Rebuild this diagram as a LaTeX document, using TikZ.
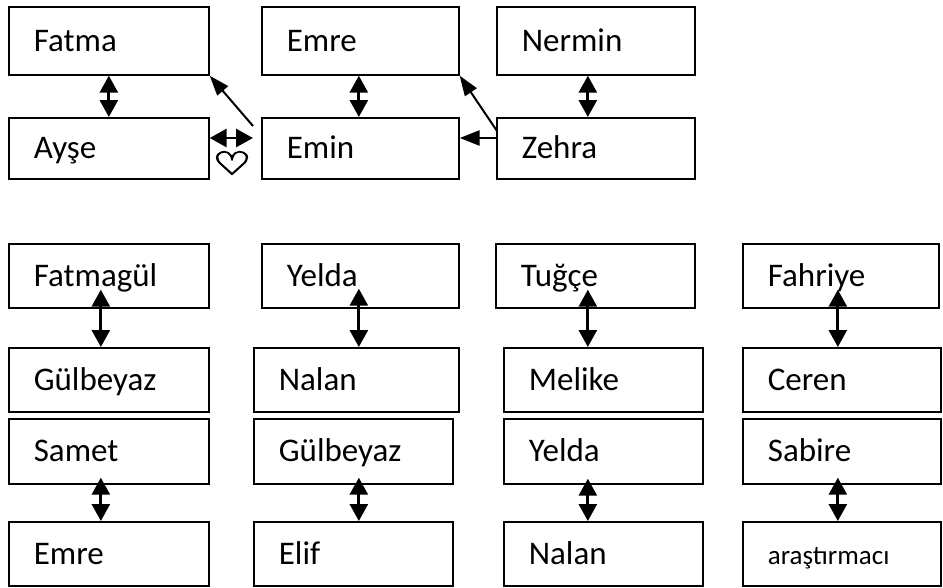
\documentclass[tikz,border=0pt]{standalone}
\usepackage{fontspec}
\setmainfont{Carlito}
\newfontfamily\symfont[FakeBold=3]{DejaVu Sans}
\usetikzlibrary{arrows.meta,calc}

% one framed name box: name, left, top, width, height, text
\newcommand\famnode[6]{%
  \node[pbox, minimum width=#4pt, minimum height=#5pt,
        text width/.expanded={\the\dimexpr #4pt-50pt\relax}] (#1) at (#2,#3) {#6};}

\begin{document}
\begin{tikzpicture}[x=1pt,y=-1pt,
  pbox/.style={draw, line width=1.7pt, anchor=north west, inner xsep=25pt, inner ysep=0pt,
               text height=21pt, text depth=0pt, align=left,
               font=\fontsize{33}{40}\selectfont},
  dbl/.style={line width=2.8pt, {Triangle[length=17pt,width=18pt]}-{Triangle[length=17pt,width=18pt]}},
  diag/.style={line width=2pt, -{Triangle[length=20pt,width=14pt]}},
  hl/.style={line width=2.6pt, -{Triangle[length=20pt,width=15pt]}}]
\useasboundingbox (0,0) rectangle (943,587);

% upper family group
\famnode{fatma}{8}{6}{200}{68}{Fatma}
\famnode{ayse}{8}{117}{200}{61}{Ayşe}
\famnode{emre}{261}{6}{197}{68}{Emre}
\famnode{emin}{261}{117}{197}{61}{Emin}
\famnode{nermin}{496}{6}{198}{68}{Nermin}
\famnode{zehra}{496}{117}{198}{61}{Zehra}

\draw[dbl] (fatma.south) -- (ayse.north);
\draw[dbl] ($(emre.south)+(-1.5,0)$) -- ($(emin.north)+(-1.5,0)$);
\draw[dbl] ($(nermin.south)+(-8,0)$) -- ($(zehra.north)+(-8,0)$);

\coordinate (eminTail) at ($(emin.north west)+(-8,9)$);
\draw[diag] (eminTail) -- (fatma.south east);
\coordinate (zehraTail) at ($(zehra.north west)+(1,14)$);
\draw[diag] (zehraTail) -- (emre.south east);
\draw[hl] ($(zehra.north west)+(2,21)$) -- ($(emin.north east)+(0,21)$);

\coordinate (loveEnd) at ($(emin.north west)+(-8,21)$);
\draw[dbl] ($(ayse.north east)+(0,21)$) -- (loveEnd);
\node[font=\symfont\fontsize{32}{32}\selectfont, inner sep=0pt, xscale=1.35] (heart) at (232,163) {♡};

% lower groups, column by column
\famnode{fatmagul}{8}{243}{200}{64}{Fatmagül}
\famnode{gulbeyazA}{8}{347}{200}{64}{Gülbeyaz}
\famnode{samet}{8}{418}{200}{65}{Samet}
\famnode{emreB}{8}{521}{200}{64}{Emre}

\famnode{yeldaA}{261}{243}{197}{64}{Yelda}
\famnode{nalanA}{253}{347}{205}{64}{Nalan}
\famnode{gulbeyazB}{253}{418}{199}{65}{Gülbeyaz}
\famnode{elif}{253}{521}{199}{64}{Elif}

\famnode{tugce}{495}{243}{199}{64}{Tuğçe}
\famnode{melike}{503}{347}{199}{64}{Melike}
\famnode{yeldaB}{503}{418}{199}{65}{Yelda}
\famnode{nalanB}{503}{521}{199}{64}{Nalan}

\famnode{fahriye}{742}{243}{196}{64}{Fahriye}
\famnode{ceren}{742}{347}{198}{64}{Ceren}
\famnode{sabire}{742}{418}{198}{65}{Sabire}
\famnode{arastirmaci}{742}{521}{198}{64}{\fontsize{27}{32}\selectfont araştırmacı}

\draw[dbl] ($(fatmagul.south)+(-8,-19)$) -- ($(gulbeyazA.north)+(-8,0)$);
\draw[dbl] ($(samet.south)+(-8,-7)$) -- ($(emreB.north)+(-8,0)$);
\draw[dbl] ($(yeldaA.south)+(-1.5,-20)$) -- ($(nalanA.north)+(2.5,0)$);
\draw[dbl] ($(gulbeyazB.south)+(5.5,-7)$) -- ($(elif.north)+(5.5,0)$);
\draw[dbl] ($(tugce.south)+(-7.5,-19)$) -- ($(melike.north)+(-15.5,0)$);
\draw[dbl] ($(yeldaB.south)+(-15.5,-6)$) -- ($(nalanB.north)+(-15.5,0)$);
\draw[dbl] ($(fahriye.south)+(-3,-19)$) -- ($(ceren.north)+(-4,0)$);
\draw[dbl] ($(sabire.south)+(-4,-7)$) -- ($(arastirmaci.north)+(-4,0)$);
\end{tikzpicture}
\end{document}
